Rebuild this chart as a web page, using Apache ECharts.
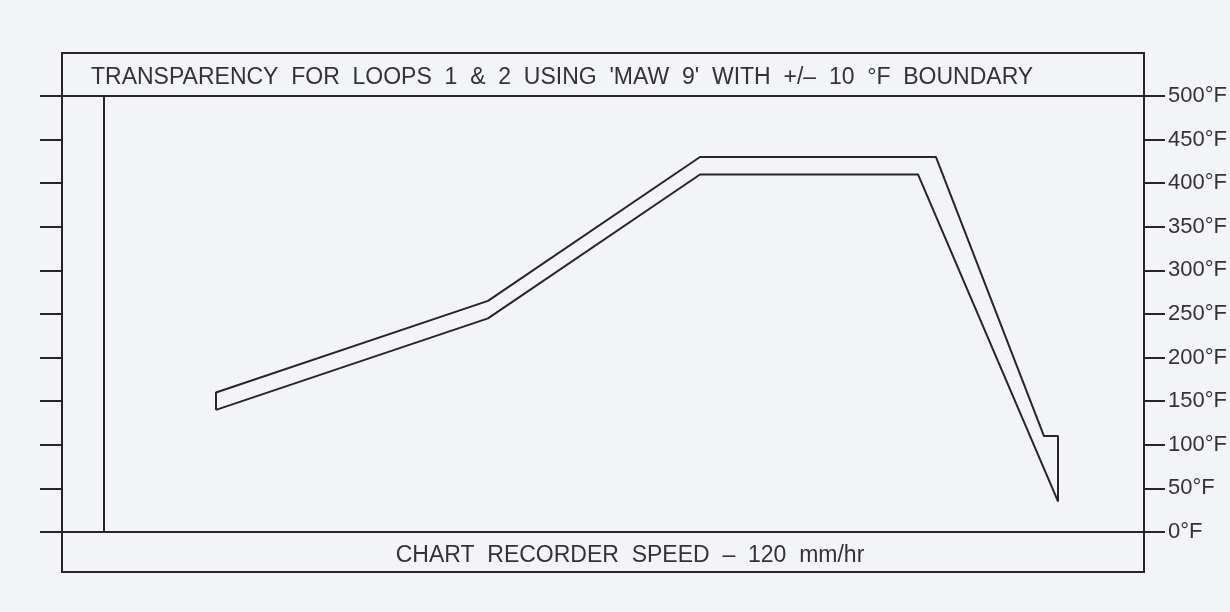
<!DOCTYPE html>
<html>
<head>
<meta charset="utf-8">
<script src="https://cdn.jsdelivr.net/npm/echarts@6/dist/echarts.min.js"></script>
<style>
  html, body { margin: 0; padding: 0; background: #f3f4f7; }
  #chart { width: 1230px; height: 612px; }
</style>
</head>
<body>
<div id="chart"></div>
<script>
// ---- Data (x = chart position units, y = temperature °F) ----
var titleText = "TRANSPARENCY  FOR  LOOPS  1  &  2  USING  'MAW  9'  WITH  +/\u2013  10  \u00B0F  BOUNDARY";
var footerText = "CHART  RECORDER  SPEED  \u2013  120  mm/hr";
var tempTicks = [0, 50, 100, 150, 200, 250, 300, 350, 400, 450, 500];
var tickSuffix = "\u00B0F";

// upper boundary (+10 °F), starting with the closing edge at the left end
var upperTime = [28, 28, 96, 149, 208, 235, 238.5, 238.5];
var upperTemp = [140, 160, 265, 430, 430, 110, 110, 35];
// lower boundary (-10 °F)
var lowerTime = [28, 96, 149, 203.5, 238.5];
var lowerTemp = [140, 245, 410, 410, 35];

var startTime = 0;

function pairs(xs, ys) { return xs.map(function (x, i) { return [x, ys[i]]; }); }

var ink = '#262626';
var txt = '#333';
var chart = echarts.init(document.getElementById('chart'), null, { renderer: 'canvas' });
chart.setOption({
  animation: false,
  backgroundColor: '#f3f4f7',
  title: [
    { text: titleText, left: 86, top: 61,
      textStyle: { fontFamily: 'Liberation Sans', fontSize: 23, fontWeight: 'normal', color: txt } },
    { text: footerText, left: 625, top: 539, textAlign: 'center',
      textStyle: { fontFamily: 'Liberation Sans', fontSize: 23, fontWeight: 'normal', color: txt } }
  ],
  grid: { left: 62, right: 86, top: 96, bottom: 80, containLabel: false },
  xAxis: { type: 'value', min: -10.5, max: 260, show: false },
  yAxis: [
    { type: 'value', position: 'left', min: tempTicks[0], max: tempTicks[tempTicks.length - 1], interval: 50,
      axisLine: { show: true, onZero: false, lineStyle: { color: ink, width: 2 } },
      axisTick: { show: true, inside: false, length: 22, lineStyle: { color: ink, width: 2 } },
      axisLabel: { show: false }, splitLine: { show: false } },
    { type: 'value', position: 'right', min: tempTicks[0], max: tempTicks[tempTicks.length - 1], interval: 50,
      axisLine: { show: true, onZero: false, lineStyle: { color: ink, width: 2 } },
      axisTick: { show: true, inside: false, length: 21, lineStyle: { color: ink, width: 2 } },
      axisLabel: { show: true, margin: 24, fontFamily: 'Liberation Sans', fontSize: 22, color: txt,
        formatter: function (v) { return v + tickSuffix; } },
      splitLine: { show: false } }
  ],
  graphic: [
    { type: 'rect', shape: { x: 62, y: 53, width: 1082, height: 519 }, silent: true,
      style: { fill: null, stroke: ink, lineWidth: 2 } }
  ],
  series: [
    { name: 'Upper limit (+10 \u00B0F)', type: 'line', data: pairs(upperTime, upperTemp),
      symbol: 'none', lineStyle: { color: ink, width: 2 },
      markLine: { silent: true, symbol: 'none', label: { show: false },
        lineStyle: { color: ink, width: 2, type: 'solid' },
        data: [ { yAxis: tempTicks[0] }, { yAxis: tempTicks[tempTicks.length - 1] }, { xAxis: startTime } ] } },
    { name: 'Lower limit (\u221210 \u00B0F)', type: 'line', data: pairs(lowerTime, lowerTemp),
      symbol: 'none', lineStyle: { color: ink, width: 2 } }
  ]
});
</script>
</body>
</html>
